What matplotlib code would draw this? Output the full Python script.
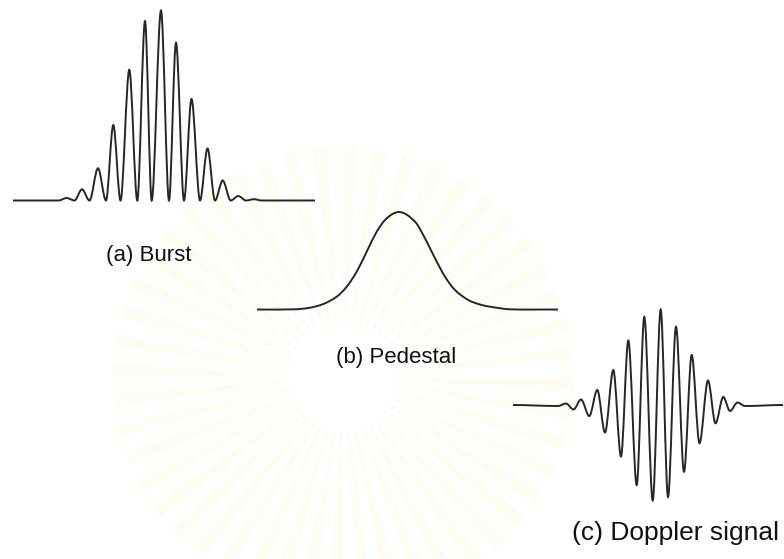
import matplotlib
matplotlib.use("Agg")
import matplotlib.pyplot as plt
from matplotlib.path import Path
from matplotlib.patches import PathPatch, Wedge

# values, in pixel units (y grows downwards)
burst_base = 200.5
burst_span = [13, 315]
burst_peak_x = [66.7, 82, 98, 113.3, 129.3, 145, 161, 176, 191.5, 207.5, 222.7, 238.3, 254]
burst_peak_y = [198, 189.3, 168.3, 125, 69.8, 21.2, 10.5, 42.7, 99, 148.5, 180.5, 196, 199.2]
burst_trough_x = [58.5, 74.5, 89.5, 106, 120.5, 137.3, 151.7, 169, 184, 200, 215, 230.7, 246, 261.5]

ped_base = 309.5
ped_span = [257, 558]
ped_x = [295, 310, 323.3, 336.7, 346.7, 356.7, 366.7, 376.7, 386.7, 399,
         415, 425, 435, 445, 455, 468.3, 481.7, 495, 510]
ped_y = [309.3, 307.7, 304, 296.7, 286.7, 271.7, 251.7, 231.7, 218.3, 212,
         221.7, 238.3, 258.3, 276.7, 290, 300, 305, 307.5, 309.3]

dop_base = 405
dop_span = [513, 783]
dop_peak_x = [566, 581, 597.3, 613.3, 628.3, 644.3, 660.7, 676, 691.7, 708, 723.3, 737.5]
dop_peak_y = [403.5, 399.5, 390, 370, 340.5, 317, 309.5, 326.7, 355, 380.5, 397, 402.5]
dop_trough_x = [558, 573.5, 589.3, 605, 621, 636.7, 652.7, 668, 684, 699.5, 715.5, 730, 745]
dop_trough_y = [406, 409.5, 416, 432.5, 456.5, 485, 500.5, 497, 471.7, 443.2, 423.3, 411, 406]

labels = ["(a) Burst", "(b) Pedestal", "(c) Doppler signal"]
label_xy = [(106, 255), (336, 357), (572, 533)]
label_size = [16, 16, 19]


def smooth_path(xs, ys):
    """Cubic Hermite through the knots, flat tangents at the extremes."""
    n = len(xs)
    slopes = []
    for i in range(n):
        if i == 0 or i == n - 1 or (ys[i] - ys[i - 1]) * (ys[i + 1] - ys[i]) <= 0:
            slopes.append(0.0)
        else:
            slopes.append((ys[i + 1] - ys[i - 1]) / (xs[i + 1] - xs[i - 1]))
    verts = [(xs[0], ys[0])]
    codes = [Path.MOVETO]
    for i in range(n - 1):
        d = (xs[i + 1] - xs[i]) / 3
        verts += [(xs[i] + d, ys[i] + slopes[i] * d),
                  (xs[i + 1] - d, ys[i + 1] - slopes[i + 1] * d),
                  (xs[i + 1], ys[i + 1])]
        codes += [Path.CURVE4] * 3
    return Path(verts, codes)


def alternate(lows_x, lows_y, highs_x, highs_y):
    xs, ys = [], []
    for i in range(len(highs_x)):
        xs += [lows_x[i], highs_x[i]]
        ys += [lows_y[i], highs_y[i]]
    xs.append(lows_x[-1])
    ys.append(lows_y[-1])
    return xs, ys


fig = plt.figure(figsize=(7.84, 5.59), dpi=100)
ax = fig.add_axes([0, 0, 1, 1])
ax.set_xlim(0, 784)
ax.set_ylim(559, 0)
ax.axis("off")

# very faint sunburst watermark behind the drawing
for k in range(48):
    a = k * 7.5
    ax.add_patch(Wedge((343, 377), 230, a, a + 3.5, width=175,
                       facecolor="#fffcf3", edgecolor="none", zorder=0))

line_kw = dict(facecolor="none", edgecolor="#262626", linewidth=1.4, zorder=2)

bx, by = alternate(burst_trough_x, [burst_base] * len(burst_trough_x), burst_peak_x, burst_peak_y)
bx = [burst_span[0]] + bx + [burst_span[1]]
by = [burst_base] + by + [burst_base]
ax.add_patch(PathPatch(smooth_path(bx, by), **line_kw))

px = [ped_span[0]] + ped_x + [ped_span[1]]
py = [ped_base] + ped_y + [ped_base]
ax.add_patch(PathPatch(smooth_path(px, py), **line_kw))

dx, dy = alternate(dop_trough_x, dop_trough_y, dop_peak_x, dop_peak_y)
dx = [dop_span[0]] + dx + [dop_span[1]]
dy = [dop_base] + dy + [dop_base]
ax.add_patch(PathPatch(smooth_path(dx, dy), **line_kw))

for text, (x, y), size in zip(labels, label_xy, label_size):
    ax.text(x, y, text, ha="left", va="center", fontsize=size,
            family="Liberation Sans", color="#111111", zorder=3)

fig.savefig("out.png", dpi=100)
